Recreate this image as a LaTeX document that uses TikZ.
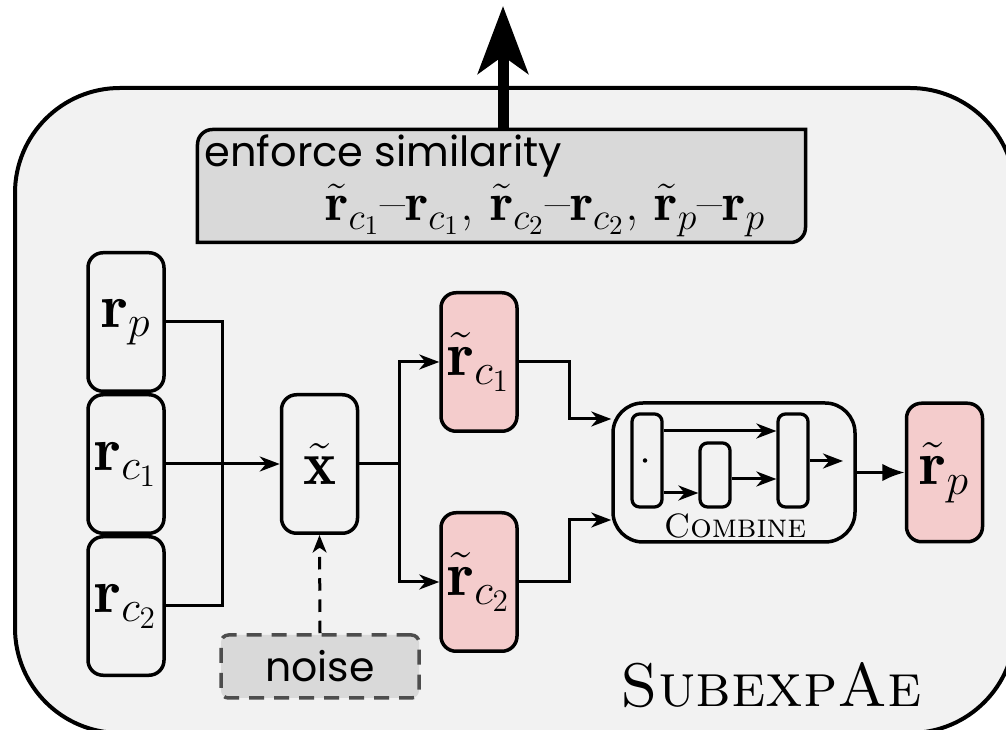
\documentclass[tikz,border=0pt]{standalone}
\usepackage{fix-cm}
\usepackage{fontspec}
\usetikzlibrary{arrows.meta,calc}
\newfontfamily\popfont{Poppins}
\definecolor{panel}{HTML}{F2F2F2}
\definecolor{shade}{HTML}{D9D9D9}
\definecolor{recon}{HTML}{F4CCCC}
\definecolor{dashgray}{HTML}{4D4D4D}
\begin{document}
\begin{tikzpicture}[x=0.4pt,y=-0.4pt,
  box/.style={draw,line width=1.4pt,rounded corners=6pt,inner sep=0pt,
    minimum width=30.4pt,minimum height=55.4pt,font=\fontsize{25}{30}\selectfont},
  recbox/.style={box,fill=recon},
  sub/.style={draw,line width=1.3pt,rounded corners=3pt,minimum width=12pt,inner sep=0pt},
  link/.style={line width=1.2pt},
  arr/.style={link,-{Stealth[length=8pt,width=6pt,inset=2.5pt]}},
]
\clip (0,0) rectangle (1006,730);
\fill[white] (0,0) rectangle (1006,730);
% module panel
\draw[line width=1.6pt,fill=panel,rounded corners=42pt] (15,88) rectangle (1015,733);

% similarity box with two rounded corners
\node[minimum width=242.8pt,minimum height=44.8pt,inner sep=0pt] (sim) at (501.5,186) {};
\draw[line width=1.4pt,fill=shade] (sim.south west) -- ([yshift=-6pt]sim.north west)
  arc[start angle=180,end angle=90,radius=6pt] -- (sim.north east)
  -- ([yshift=6pt]sim.south east) arc[start angle=0,end angle=-90,radius=6pt] -- cycle;
\node[anchor=base west,inner sep=0pt,font=\popfont\fontsize{16.6}{20}\selectfont] (simtitle) at (204,167) {enforce similarity};
\node[anchor=base west,inner sep=0pt,font=\fontsize{21.6}{26}\selectfont] (simeq) at (325,221)
  {$\tilde{\mathbf r}_{c_1}$--$\mathbf r_{c_1}$, $\tilde{\mathbf r}_{c_2}$--$\mathbf r_{c_2}$, $\tilde{\mathbf r}_p$--$\mathbf r_p$};
\coordinate (up) at (503,6);
\draw[line width=4.4pt,-{Stealth[length=27pt,width=20pt,inset=7pt]}] (sim.north -| up) -- (up);

% inputs
\node[box] (rc1) at (126,464) {$\mathbf r_{c_1}$};
\node[box,anchor=south] (rp) at (rc1.north) {$\mathbf r_p$};
\node[box,anchor=north] (rc2) at (rc1.south) {$\mathbf r_{c_2}$};

\node[box] (xt) at (319.5,464) {$\tilde{\mathbf x}$};
\node[recbox] (r1) at (479,362) {$\tilde{\mathbf r}_{c_1}$};
\node[recbox] (r2) at (479,582) {$\tilde{\mathbf r}_{c_2}$};

% combine block
\node[draw,line width=1.4pt,rounded corners=12pt,minimum width=96.8pt,minimum height=55.6pt] (comb) at (734,472.5) {};
\node[sub,minimum height=37.2pt] (ca) at (647,460.5) {};
\node[sub,minimum height=25.6pt] (cb) at (715,475) {};
\node[sub,minimum height=37.2pt] (cc) at (793,460.5) {};
\node[anchor=base,inner sep=0pt,font=\fontsize{13.5}{16}\selectfont] (comblabel) at (735,538) {\textsc{Combine}};
\node[recbox] (rpt) at (944.5,472.5) {$\tilde{\mathbf r}_p$};

% noise
\node[draw=dashgray,fill=shade,line width=1.4pt,dash pattern=on 6pt off 4pt,rounded corners=3pt,
  minimum width=79.2pt,minimum height=25.2pt,inner sep=0pt,
  font=\popfont\fontsize{16.4}{19}\selectfont] (noise) at (320,666.5) {noise};

\node[anchor=base west,inner sep=0pt,font=\fontsize{24.6}{30}\selectfont] (title) at (620,707) {\textsc{SubexpAe}};

% connectors
\coordinate (j1) at (222,464);
\draw[link] (rp.east) -| (j1) |- (rc2.east);
\draw[arr] (rc1.east) -- (xt.west);
\coordinate (j2) at (399,464);
\draw[link] (xt.east) -- (j2);
\draw[arr] (j2) |- (r1.west);
\draw[arr] (j2) |- (r2.west);
\draw[arr] (r1.east) -- ++(51,0) |- (comb.west |- 0,419);
\draw[arr] (r2.east) -- ++(51,0) |- (comb.west |- 0,520);

\draw[arr] (ca.east |- 0,431) -- (cc.west |- 0,431);
\draw[arr] (ca.east |- 0,493) -- (cb.west |- 0,493);
\draw[arr] (cb.east |- 0,479) -- (cc.west |- 0,479);
\coordinate (cend) at (843,461);
\draw[arr] (cc.east |- cend) -- (cend);
\fill (ca.center) ++(-2,0) circle (0.9pt);

\draw[link,-{Latex[length=9pt,width=7pt]}] (comb.east) -- (rpt.west);
\draw[link,dash pattern=on 5pt off 3.5pt,-{Stealth[length=7pt,width=5.5pt,inset=2pt]}] (noise.north) -- (xt.south);
\end{tikzpicture}
\end{document}
